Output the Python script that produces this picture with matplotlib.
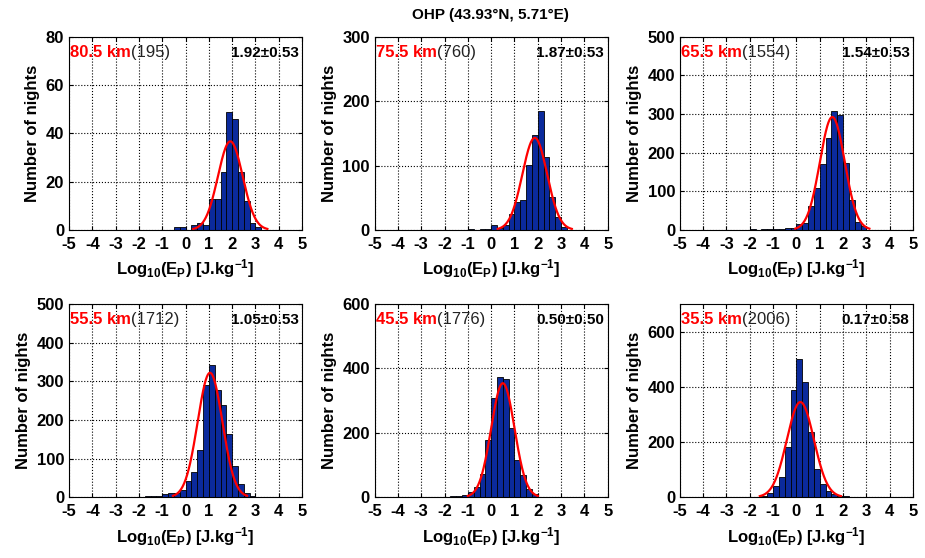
import numpy as np
import matplotlib
matplotlib.use("Agg")
import matplotlib.pyplot as plt

plt.rcParams['font.family'] = ['Liberation Sans', 'DejaVu Sans']
plt.rcParams['mathtext.fontset'] = 'custom'
plt.rcParams['mathtext.rm'] = 'Liberation Sans:bold'
plt.rcParams['mathtext.bf'] = 'Liberation Sans:bold'
plt.rcParams['mathtext.default'] = 'bf'
plt.rcParams['axes.unicode_minus'] = False

# common histogram bins (width 0.25) in Log10(Ep)
bin_edges = np.arange(-2.0, 3.75, 0.25)

altitudes = ['80.5 km', '75.5 km', '65.5 km', '55.5 km', '45.5 km', '35.5 km']
n_nights = [195, 760, 1554, 1712, 1776, 2006]
means = [1.92, 1.87, 1.54, 1.05, 0.50, 0.17]
sigmas = [0.53, 0.53, 0.53, 0.53, 0.50, 0.58]

counts_80 = [0, 0, 0, 0, 0, 0, 1, 1, 0, 2, 3, 2, 13, 13, 24, 49, 46, 24, 12, 3, 1, 0]
counts_75 = [0, 0, 0, 0, 2, 0, 1, 1, 8, 3, 8, 24, 44, 46, 101, 147, 185, 114, 51, 20, 4, 0]
counts_65 = [2, 0, 2, 3, 3, 3, 4, 5, 14, 19, 63, 109, 171, 237, 308, 297, 173, 77, 20, 9, 0, 0]
counts_55 = [0, 2, 3, 4, 8, 10, 12, 18, 42, 65, 122, 290, 343, 278, 240, 163, 80, 35, 12, 4, 0, 0]
counts_45 = [2, 3, 5, 8, 16, 31, 73, 177, 307, 375, 368, 215, 115, 68, 26, 10, 0, 0, 0, 0, 0, 0]
counts_35 = [0, 0, 6, 15, 39, 73, 182, 390, 500, 418, 236, 103, 48, 22, 12, 5, 3, 0, 0, 0, 0, 0]
all_counts = [counts_80, counts_75, counts_65, counts_55, counts_45, counts_35]

y_limits = [80, 300, 500, 500, 600, 700]
y_steps = [20, 100, 100, 100, 200, 200]
x_ticks = np.arange(-5, 6, 1)

fig = plt.figure(figsize=(9.25, 5.58), dpi=100)

lefts = [0.0746, 0.405, 0.735]
bottoms = [0.588, 0.109]
width, height = 0.252, 0.346

bar_color = '#0B2A9C'

for i in range(6):
    ax = fig.add_axes([lefts[i % 3], bottoms[i // 3], width, height])
    ax.bar(bin_edges[:-1], all_counts[i], width=0.25, align='edge',
           color=bar_color, edgecolor='black', linewidth=0.6, zorder=2)

    # gaussian fit from mean/sigma/N
    xg = np.linspace(means[i] - 3 * sigmas[i], means[i] + 3 * sigmas[i], 200)
    amp = n_nights[i] * 0.25 / (sigmas[i] * np.sqrt(2 * np.pi))
    ax.plot(xg, amp * np.exp(-0.5 * ((xg - means[i]) / sigmas[i]) ** 2),
            color='red', linewidth=1.6, zorder=3)

    ax.set_xlim(-5, 5)
    ax.set_ylim(0, y_limits[i])
    ax.set_xticks(x_ticks)
    ax.set_yticks(np.arange(0, y_limits[i] + 1, y_steps[i]))
    ax.grid(True, color='black', linestyle=':', linewidth=0.8, zorder=0)
    ax.set_axisbelow(True)
    ax.tick_params(direction='in', top=True, right=True, length=3,
                   labelsize=12)
    ax.tick_params(axis='x', pad=5)
    for lab in ax.get_xticklabels() + ax.get_yticklabels():
        lab.set_fontweight('bold')
    for sp in ax.spines.values():
        sp.set_linewidth(0.8)

    ax.set_xlabel('Log$_{10}$(E$_{P}$) [J.kg$^{-1}$]', fontsize=12,
                  fontweight='bold', labelpad=4)
    ax.set_ylabel('Number of nights', fontsize=12, fontweight='bold',
                  labelpad=4)

    t1 = ax.text(0.005, 0.96, altitudes[i], transform=ax.transAxes,
                 color='red', fontsize=12, fontweight='bold', va='top',
                 ha='left')
    ax.annotate('(%d)' % n_nights[i], xy=(1, 0), xycoords=t1, va='bottom',
                ha='left', fontsize=12, color='#222222')
    ax.text(0.985, 0.955, '%.2f\u00b1%.2f' % (means[i], sigmas[i]),
            transform=ax.transAxes, fontsize=11, fontweight='bold',
            va='top', ha='right')

fig.text(0.53, 0.973, 'OHP (43.93\u00b0N, 5.71\u00b0E)', ha='center',
         va='center', fontsize=11, fontweight='bold')

fig.savefig('out.png', dpi=100)
